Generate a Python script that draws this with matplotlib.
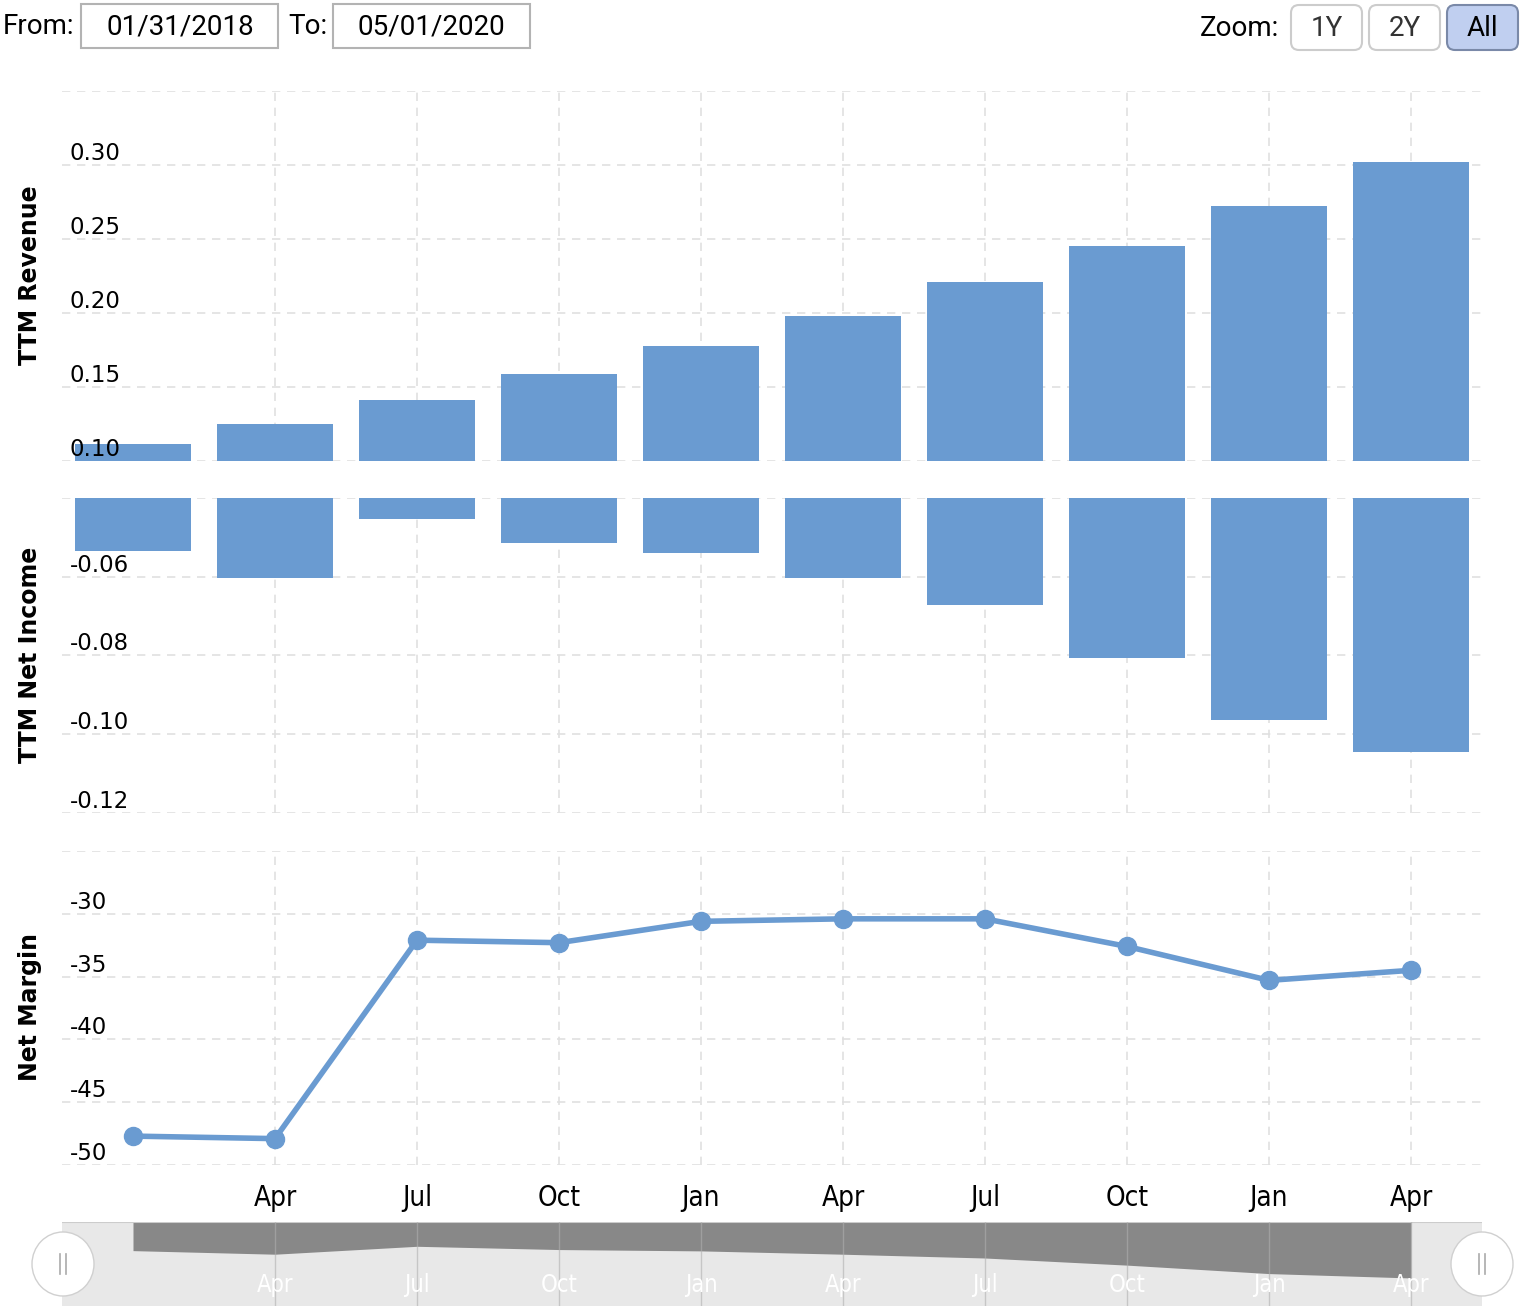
import numpy as np
import matplotlib.pyplot as plt
from matplotlib.patches import Rectangle, FancyBboxPatch, Ellipse

# quarterly data, 01/31/2018 .. 04/30/2020
months = ['Jan', 'Apr', 'Jul', 'Oct', 'Jan', 'Apr', 'Jul', 'Oct', 'Jan', 'Apr']
revenue = [0.1115, 0.125, 0.1412, 0.1588, 0.1777, 0.198, 0.221, 0.2453, 0.2723, 0.302]
net_income = [-0.0535, -0.0602, -0.0454, -0.0515, -0.0540, -0.0602, -0.0673, -0.0806, -0.0964, -0.1046]
net_margin = [-47.7, -47.9, -32.1, -32.3, -30.6, -30.4, -30.4, -32.6, -35.3, -34.5]

rev_ticks = [0.10, 0.15, 0.20, 0.25, 0.30, 0.35]
ni_ticks = [-0.12, -0.10, -0.08, -0.06, -0.04]
nm_ticks = [-50, -45, -40, -35, -30, -25]

W, H = 1522, 1306
BLUE = '#6a9bd1'
GRID = '#e0e0e0'
fig = plt.figure(figsize=(W / 100, H / 100), dpi=100)

def px_axes(x0, y0, x1, y1):
    return fig.add_axes([x0 / W, 1 - y1 / H, (x1 - x0) / W, (y1 - y0) / H])

x = np.arange(len(months))
xlim = (-0.5, 9.5)


def style(ax, ticks, labels):
    ax.set_xlim(*xlim)
    ax.set_ylim(ticks[0], ticks[-1])
    for s in ax.spines.values():
        s.set_visible(False)
    ax.set_yticks(ticks)
    ax.set_xticks(x[1:])
    ax.tick_params(length=0, labelleft=False, labelbottom=False)
    ax.grid(True, color=GRID, linestyle=(0, (5, 4)), linewidth=1.2, zorder=0)
    ax.set_axisbelow(True)
    for t, lab in zip(ticks, labels):
        if lab:
            ax.text(0.0056, t, lab, transform=ax.get_yaxis_transform(),
                    ha='left', va='bottom', fontsize=16.5, zorder=5,
                    family='DejaVu Sans')


ax1 = px_axes(62, 91, 1482, 461)
ax1.bar(x, revenue, width=0.817, color=BLUE, zorder=2)
style(ax1, rev_ticks, ['0.10', '0.15', '0.20', '0.25', '0.30', ''])

ax2 = px_axes(62, 498, 1482, 813)
ax2.bar(x, net_income, width=0.817, color=BLUE, zorder=2)
style(ax2, ni_ticks, ['-0.12', '-0.10', '-0.08', '-0.06', ''])

ax3 = px_axes(62, 851, 1482, 1165)
ax3.plot(x, net_margin, color=BLUE, lw=4, marker='o', ms=13, zorder=3,
         clip_on=False)
style(ax3, nm_ticks, ['-50', '-45', '-40', '-35', '-30', ''])
ax3.set_xticks(x[1:], months[1:])
ax3.tick_params(labelbottom=True, pad=14, labelsize=20)
for lab in ax3.get_xticklabels():
    lab.set_fontstretch('condensed')

for yc, title in [(275, 'TTM Revenue'), (655, 'TTM Net Income'), (1007, 'Net Margin')]:
    fig.text(30 / W, 1 - yc / H, title, rotation=90, ha='center', va='center',
             fontsize=17, fontweight='bold', family='DejaVu Sans')

# navigator
nav = px_axes(62, 1222, 1482, 1306)
nav.set_facecolor('#e8e8e8')
nav.fill_between(x, 0, net_income, color='#888888', lw=0, zorder=2)
nav.set_xlim(*xlim)
nav.set_ylim(-0.157, 0)
nav.set_xticks([])
nav.set_yticks([])
for s in nav.spines.values():
    s.set_visible(False)
nav.axhline(0, color='#cccccc', lw=1.5, zorder=3)
for xi, m in zip(x[1:], months[1:]):
    nav.axvline(xi, color='#b0b0b0', lw=1, alpha=0.6, zorder=3)
    nav.text(xi, 0.25, m, transform=nav.get_xaxis_transform(), color='white',
             ha='center', va='center', fontsize=17, fontstretch='condensed', zorder=4)

# overlay in pixel coordinates for the page controls
ov = fig.add_axes([0, 0, 1, 1], facecolor='none')
ov.set_xlim(0, W)
ov.set_ylim(H, 0)
ov.axis('off')

hdr = dict(family='Roboto', fontsize=20, va='center')
ov.text(3, 27, 'From:', ha='left', **hdr)
ov.add_patch(Rectangle((81, 4), 197, 44, fc='white', ec='#b3b3b3', lw=1.5))
ov.text(180, 27, '01/31/2018', ha='center', **hdr)
ov.text(288, 27, 'To:', ha='left', **hdr)
ov.add_patch(Rectangle((333, 4), 197, 44, fc='white', ec='#b3b3b3', lw=1.5))
ov.text(431, 27, '05/01/2020', ha='center', **hdr)

ov.text(1200, 28, 'Zoom:', ha='left', **hdr)
buttons = [('1Y', 1291, 'white', '#cccccc', '#333333'),
           ('2Y', 1369, 'white', '#cccccc', '#333333'),
           ('All', 1447, '#c0cff0', '#7a89a8', 'black')]
for lab, bx, fc, ec, tc in buttons:
    ov.add_patch(FancyBboxPatch((bx, 5), 71, 45, boxstyle='round,pad=0,rounding_size=8',
                                fc=fc, ec=ec, lw=1.5))
    ov.text(bx + 35.5, 28, lab, ha='center', color=tc, family='Roboto',
            fontsize=20, va='center')

for hx in (63, 1482):
    ov.add_patch(Ellipse((hx, 1264), 62, 64, fc='white', ec='#d0d0d0', lw=1, zorder=5))
    for dx in (-3, 3):
        ov.plot([hx + dx, hx + dx], [1254, 1274], color='#aaaaaa', lw=1.2, zorder=6)

fig.savefig('out.png', dpi=100)
